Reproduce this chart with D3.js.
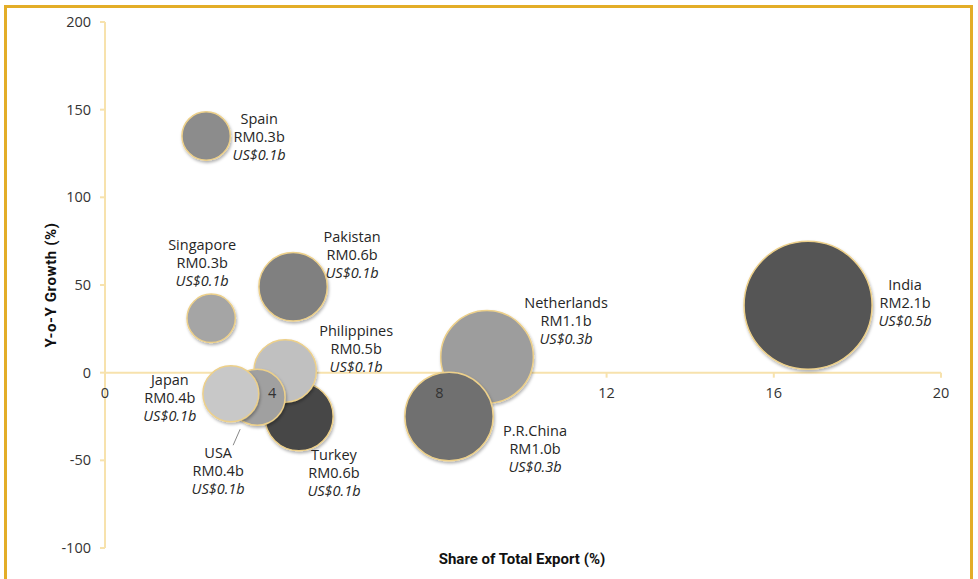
<!DOCTYPE html>
<html>
<head>
<meta charset="utf-8">
<script src="https://cdn.jsdelivr.net/npm/d3@7"></script>
<style>
  body { margin: 0; background: #fff; }
  svg { display: block; font-family: "Open Sans", sans-serif; }
</style>
</head>
<body>
<svg></svg>
<script>
var countries = ["India", "Netherlands", "P.R.China", "Pakistan", "Turkey", "Philippines", "USA", "Japan", "Spain", "Singapore"];
var shareValues = [16.82, 9.14, 8.23, 4.50, 4.64, 4.31, 3.64, 3.01, 2.42, 2.54];
var growthValues = [38.5, 9, -25, 49, -25, 1, -14, -12, 135, 31];
var rmValues = [2.1, 1.1, 1.0, 0.6, 0.6, 0.5, 0.4, 0.4, 0.3, 0.3];
var usdValues = [0.5, 0.3, 0.3, 0.1, 0.1, 0.1, 0.1, 0.1, 0.1, 0.1];
var xTicks = [0, 4, 8, 12, 16, 20];
var yTicks = [-100, -50, 0, 50, 100, 150, 200];

// layout only: fill per bubble and label offset from centre
var fills = ["#545454", "#9d9d9d", "#6f6f6f", "#808080", "#474747", "#c0c0c0", "#a0a0a0", "#c8c8c8", "#8c8c8c", "#a5a5a5"];
var labelOffsets = [[97, -15], [79, -49], [86, 19], [59, -45], [35, 43], [71, -35], [-39, 61], [-61, -9], [53, -12], [-9, -68]];

var svgWidth = 978,
    svgHeight = 579;

var svg = d3.select("svg")
    .attr("width", svgWidth)
    .attr("height", svgHeight);

var defs = svg.append("defs");
defs.append("filter")
    .attr("id", "shadow")
    .attr("x", "-20%").attr("y", "-20%")
    .attr("width", "150%").attr("height", "150%")
    .append("feDropShadow")
    .attr("dx", 1).attr("dy", 2)
    .attr("stdDeviation", 1.5)
    .attr("flood-color", "#000")
    .attr("flood-opacity", 0.3);

// gold frame
svg.append("rect")
    .attr("x", 5.5).attr("y", 6.5)
    .attr("width", 966).attr("height", 620)
    .attr("fill", "none")
    .attr("stroke", "#e3ad28")
    .attr("stroke-width", 3);

var xScale = d3.scaleLinear().domain([0, 20]).range([105, 941]);
var yScale = d3.scaleLinear().domain([-100, 200]).range([548, 22]);
var rScale = d3.scaleSqrt().domain([0, 2.1]).range([0, 64]);

var axisColor = "#f7e2ad";

// y axis line and ticks
svg.append("line")
    .attr("x1", xScale(0)).attr("x2", xScale(0))
    .attr("y1", yScale(200)).attr("y2", yScale(-100))
    .attr("stroke", axisColor).attr("stroke-width", 2);
svg.selectAll(".ytick")
    .data(yTicks)
    .enter()
    .append("line")
    .attr("x1", xScale(0) - 5).attr("x2", xScale(0))
    .attr("y1", function (d) { return yScale(d); })
    .attr("y2", function (d) { return yScale(d); })
    .attr("stroke", axisColor).attr("stroke-width", 2);

// x axis line and ticks
svg.append("line")
    .attr("x1", xScale(0)).attr("x2", xScale(20))
    .attr("y1", yScale(0)).attr("y2", yScale(0))
    .attr("stroke", axisColor).attr("stroke-width", 2);
svg.selectAll(".xtick")
    .data(xTicks)
    .enter()
    .append("line")
    .attr("x1", function (d) { return xScale(d); })
    .attr("x2", function (d) { return xScale(d); })
    .attr("y1", yScale(0)).attr("y2", yScale(0) + 5)
    .attr("stroke", axisColor).attr("stroke-width", 2);

// bubbles
var idx = d3.range(countries.length);
svg.selectAll("circle")
    .data(idx)
    .enter()
    .append("circle")
    .attr("cx", function (i) { return xScale(shareValues[i]); })
    .attr("cy", function (i) { return yScale(growthValues[i]); })
    .attr("r", function (i) { return rScale(rmValues[i]); })
    .attr("fill", function (i) { return fills[i]; })
    .attr("stroke", "#edd08a")
    .attr("stroke-width", 1.5)
    .attr("filter", "url(#shadow)");

// tick labels
svg.selectAll(".ylab")
    .data(yTicks)
    .enter()
    .append("text")
    .text(function (d) { return d; })
    .attr("x", 91)
    .attr("y", function (d) { return yScale(d) + 5; })
    .attr("text-anchor", "end")
    .attr("font-size", 14.5)
    .attr("fill", "#333");

svg.selectAll(".xlab")
    .data(xTicks)
    .enter()
    .append("text")
    .text(function (d) { return d; })
    .attr("x", function (d) { return xScale(d); })
    .attr("y", yScale(0) + 25)
    .attr("text-anchor", "middle")
    .attr("font-size", 14.5)
    .attr("fill", "#333");

// leader line for USA
var usa = countries.indexOf("USA");
svg.append("line")
    .attr("x1", xScale(shareValues[usa]) - 17).attr("y1", yScale(growthValues[usa]) + 32)
    .attr("x2", xScale(shareValues[usa]) - 24).attr("y2", yScale(growthValues[usa]) + 48)
    .attr("stroke", "#888").attr("stroke-width", 1);

// data labels
var labels = svg.selectAll(".dlabel")
    .data(idx)
    .enter()
    .append("text")
    .attr("text-anchor", "middle")
    .attr("font-size", 14.5)
    .attr("fill", "#262626")
    .attr("transform", function (i) {
        var x = xScale(shareValues[i]) + labelOffsets[i][0];
        var y = yScale(growthValues[i]) + labelOffsets[i][1];
        return "translate(" + x + "," + y + ")";
    });
labels.append("tspan").attr("x", 0).attr("y", 0)
    .text(function (i) { return countries[i]; });
labels.append("tspan").attr("x", 0).attr("y", 18)
    .text(function (i) { return "RM" + rmValues[i].toFixed(1) + "b"; });
labels.append("tspan").attr("x", 0).attr("y", 36)
    .attr("font-style", "italic")
    .text(function (i) { return "US$" + usdValues[i].toFixed(1) + "b"; });

// axis titles
svg.append("text")
    .text("Share of Total Export (%)")
    .attr("x", 522).attr("y", 564)
    .attr("text-anchor", "middle")
    .attr("font-family", "Roboto, sans-serif")
    .attr("font-weight", "bold")
    .attr("font-size", 15)
    .attr("fill", "#111");

svg.append("text")
    .text("Y-o-Y Growth (%)")
    .attr("transform", "translate(56," + 285 + ") rotate(-90)")
    .attr("text-anchor", "middle")
    .attr("font-family", "Roboto, sans-serif")
    .attr("font-weight", "bold")
    .attr("font-size", 15)
    .attr("letter-spacing", 0.6)
    .attr("fill", "#111");
</script>
</body>
</html>
